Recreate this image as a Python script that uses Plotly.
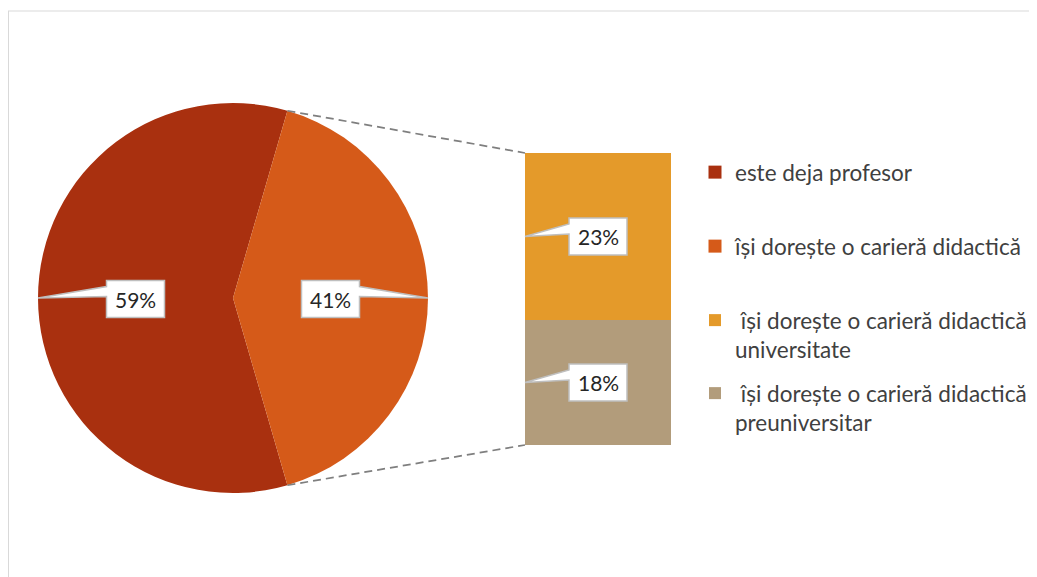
import math
import plotly.graph_objects as go

# ---------------- data ----------------
pie_labels = ["este deja profesor", "își dorește o carieră didactică"]
pie_values = [59, 41]
pie_colors = ["#A9300F", "#D55A19"]

bar_labels = ["\u00a0își dorește o carieră didactică<br>universitate",
              "\u00a0își dorește o carieră didactică<br>preuniversitar"]
bar_values = [23.45, 17.55]          # top segment, bottom segment
bar_colors = ["#E49A2A", "#B29C7B"]

# ---------------- layout constants (page pixels) ----------------
W, H = 1037, 577
OFF = 8                      # page body margin
PIE_CX, PIE_CY, PIE_R = 233, 298, 195
BAR_X0, BAR_X1, BAR_Y0, BAR_Y1 = 525, 671, 153, 445
BOX_W, BOX_H = 58, 37
FONT = "Lato"
TXT = "#404040"


def fx(x):
    return (x - OFF) / W


def fy(y):
    return 1 - (y - OFF) / H


fig = go.Figure()

total = sum(pie_values)
rotation = 90 + 360 * pie_values[1] / total / 2

fig.add_trace(go.Pie(
    labels=pie_labels, values=pie_values, sort=False, direction="clockwise",
    rotation=rotation, marker=dict(colors=pie_colors, line=dict(width=0)),
    textinfo="none", showlegend=False, hoverinfo="label+percent",
    domain=dict(x=[fx(PIE_CX - PIE_R), fx(PIE_CX + PIE_R)],
                y=[fy(PIE_CY + PIE_R), fy(PIE_CY - PIE_R)]),
))

# stacked bar (bottom segment first)
bar_total = sum(bar_values)
for lab, val, col, leg in [(bar_labels[1], bar_values[1], bar_colors[1], "legend4"),
                           (bar_labels[0], bar_values[0], bar_colors[0], "legend3")]:
    fig.add_trace(go.Bar(x=[0], y=[val], width=1, name=lab, marker=dict(color=col, line=dict(width=0)),
                         legend=leg, hoverinfo="name+y"))

# legend entries for the pie slices
for lab, col, leg in zip(pie_labels, pie_colors, ["legend", "legend2"]):
    fig.add_trace(go.Scatter(x=[None], y=[None], mode="markers", name=lab, legend=leg,
                             marker=dict(symbol="square", size=13, color=col)))

shapes = []
annotations = []


def callout(bx, by, tx, ty, text):
    x0, x1 = bx - BOX_W / 2, bx + BOX_W / 2
    y0, y1 = by - BOX_H / 2, by + BOX_H / 2
    if tx < bx:
        pts = [(x0, y0), (x1, y0), (x1, y1), (x0, y1), (x0, y0 + 16), (tx, ty), (x0, y0 + 6)]
    else:
        pts = [(x0, y0), (x1, y0), (x1, y0 + 6), (tx, ty), (x1, y0 + 16), (x1, y1), (x0, y1)]
    path = "M " + " L ".join(f"{fx(px):.5f},{fy(py):.5f}" for px, py in pts) + " Z"
    shapes.append(dict(type="path", path=path, xref="paper", yref="paper",
                       fillcolor="white", line=dict(color="#BFBFBF", width=1.5), layer="above"))
    annotations.append(dict(x=fx(bx), y=fy(by), xref="paper", yref="paper", text=text,
                            xanchor="center", yanchor="middle",
                            showarrow=False, font=dict(family=FONT, size=21, color="#262626")))


# pie callouts
start = rotation
for v in pie_values:
    span = 360 * v / total
    mid = math.radians(start + span / 2)
    tx, ty = PIE_CX + PIE_R * math.sin(mid), PIE_CY - PIE_R * math.cos(mid)
    bx, by = PIE_CX + 0.5 * PIE_R * math.sin(mid), PIE_CY - 0.5 * PIE_R * math.cos(mid) + 1
    callout(bx, by, tx, ty, f"{v:.0f}%")
    start += span

# connector lines from pie slice edges to bar
a1 = math.radians(rotation + 360 * pie_values[0] / total)
a2 = math.radians(rotation + 360)
for ang, by in [(a1, BAR_Y0), (a2, BAR_Y1)]:
    px, py = PIE_CX + PIE_R * math.sin(ang), PIE_CY - PIE_R * math.cos(ang)
    shapes.append(dict(type="line", xref="paper", yref="paper",
                       x0=fx(px), y0=fy(py), x1=fx(BAR_X0), y1=fy(by),
                       line=dict(color="#7F7F7F", width=1.75, dash="8px,5px")))

# bar callouts
scale = (BAR_Y1 - BAR_Y0) / bar_total
cum = 0
for v in bar_values:
    mid_y = BAR_Y0 + (cum + v / 2) * scale
    callout((BAR_X0 + BAR_X1) / 2, mid_y, BAR_X0, mid_y, f"{v:.0f}%")
    cum += v

# chart frame
shapes.append(dict(type="line", xref="paper", yref="paper", x0=fx(8), x1=1, y0=fy(11), y1=fy(11),
                   line=dict(color="#D9D9D9", width=1)))
shapes.append(dict(type="line", xref="paper", yref="paper", x0=fx(8.5), x1=fx(8.5), y0=fy(11), y1=0,
                   line=dict(color="#D9D9D9", width=1)))

leg_common = dict(font=dict(family=FONT, size=22.5, color=TXT), bgcolor="rgba(0,0,0,0)",
                  xanchor="left", yanchor="top", valign="top", x=fx(695))
fig.update_layout(
    width=W, height=H, margin=dict(l=0, r=0, t=0, b=0),
    paper_bgcolor="white", plot_bgcolor="white",
    barmode="stack", bargap=0,
    xaxis=dict(domain=[fx(BAR_X0), fx(BAR_X1)], range=[-0.5, 0.5], visible=False, fixedrange=True),
    yaxis=dict(domain=[fy(BAR_Y1), fy(BAR_Y0)], range=[0, bar_total], visible=False, fixedrange=True),
    legend=dict(y=fy(174 - 23), **leg_common),
    legend2=dict(y=fy(248 - 23), **leg_common),
    legend3=dict(y=fy(322 - 23), **leg_common),
    legend4=dict(y=fy(395 - 23), **leg_common),
    shapes=shapes, annotations=annotations,
)

fig.write_html("out.html")
